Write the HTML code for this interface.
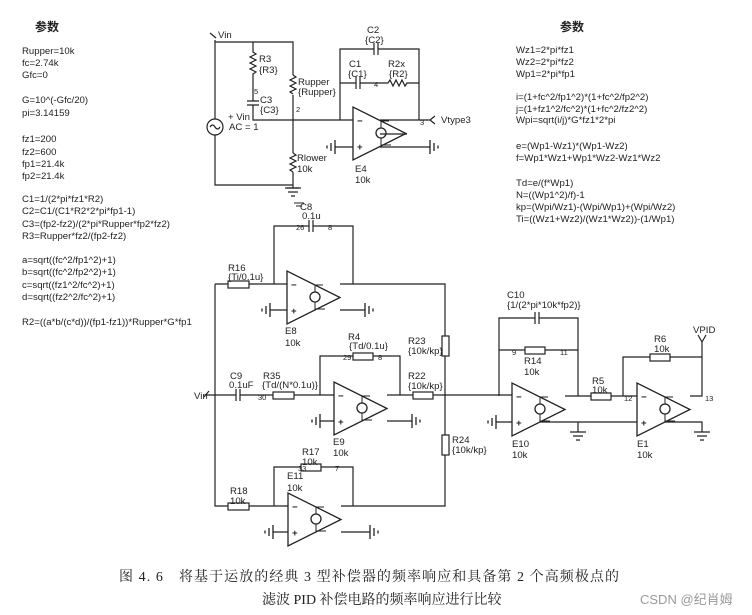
<!DOCTYPE html>
<html><head><meta charset="utf-8"><style>
html,body{margin:0;padding:0;background:#fff;}
svg{display:block;font-family:"Liberation Sans","Noto Sans CJK SC",sans-serif;}
.t{font-size:9.6px;fill:#222;}
.s{font-size:7.5px;fill:#222;}
.cap{font-family:"Liberation Serif","Noto Serif CJK SC",serif;font-size:14px;fill:#222;}
</style></head><body>
<svg width="752" height="615" viewBox="0 0 752 615" xmlns="http://www.w3.org/2000/svg">
<defs>
<g id="oa" fill="none" stroke="#222" stroke-width="1.3">
<path d="M0 0 L0 53 L53 26.5 Z"/>
<circle cx="28" cy="26" r="5"/>
<path d="M28 21 V14 H36 M28 31 V38 H38" stroke-width="1"/>
<text x="4" y="17" class="t" stroke="none" fill="#222" font-weight="bold">−</text>
<text x="4" y="43" class="t" stroke="none" fill="#222" font-weight="bold">+</text>
</g>
<g id="gl" stroke="#222" stroke-width="1.3"><path d="M0 -7 V7 M-4 -4 V4 M-8 -1.5 V1.5"/></g>
<g id="gr" stroke="#222" stroke-width="1.3"><path d="M0 -7 V7 M4 -4 V4 M8 -1.5 V1.5"/></g>
<g id="gd" stroke="#222" stroke-width="1.3"><path d="M-8 0 H8 M-5 4 H5 M-2 8 H2"/></g>
</defs>

<!-- left params -->
<text x="35" y="31" font-size="12" font-weight="bold" fill="#222">参数</text>
<g class="t">
<text x="22" y="54">Rupper=10k</text><text x="22" y="66">fc=2.74k</text><text x="22" y="78">Gfc=0</text>
<text x="22" y="103">G=10^(-Gfc/20)</text><text x="22" y="116">pi=3.14159</text>
<text x="22" y="142">fz1=200</text><text x="22" y="155">fz2=600</text><text x="22" y="167">fp1=21.4k</text><text x="22" y="179">fp2=21.4k</text>
<text x="22" y="202">C1=1/(2*pi*fz1*R2)</text><text x="22" y="214">C2=C1/(C1*R2*2*pi*fp1-1)</text><text x="22" y="227">C3=(fp2-fz2)/(2*pi*Rupper*fp2*fz2)</text><text x="22" y="239">R3=Rupper*fz2/(fp2-fz2)</text>
<text x="22" y="263">a=sqrt((fc^2/fp1^2)+1)</text><text x="22" y="275">b=sqrt((fc^2/fp2^2)+1)</text><text x="22" y="288">c=sqrt((fz1^2/fc^2)+1)</text><text x="22" y="300">d=sqrt((fz2^2/fc^2)+1)</text>
<text x="22" y="325">R2=((a*b/(c*d))/(fp1-fz1))*Rupper*G*fp1</text>
</g>
<!-- right params -->
<text x="560" y="31" font-size="12" font-weight="bold" fill="#222">参数</text>
<g class="t">
<text x="516" y="53">Wz1=2*pi*fz1</text><text x="516" y="65">Wz2=2*pi*fz2</text><text x="516" y="77">Wp1=2*pi*fp1</text>
<text x="516" y="100">i=(1+fc^2/fp1^2)*(1+fc^2/fp2^2)</text><text x="516" y="112">j=(1+fz1^2/fc^2)*(1+fc^2/fz2^2)</text><text x="516" y="123">Wpi=sqrt(i/j)*G*fz1*2*pi</text>
<text x="516" y="149">e=(Wp1-Wz1)*(Wp1-Wz2)</text><text x="516" y="161">f=Wp1*Wz1+Wp1*Wz2-Wz1*Wz2</text>
<text x="516" y="186">Td=e/(f*Wp1)</text><text x="516" y="198">N=((Wp1^2)/f)-1</text><text x="516" y="210">kp=(Wpi/Wz1)-(Wpi/Wp1)+(Wpi/Wz2)</text><text x="516" y="222">Ti=((Wz1+Wz2)/(Wz1*Wz2))-(1/Wp1)</text>
</g>

<g fill="none" stroke="#222" stroke-width="1.2">
<!-- top circuit -->
<path d="M210 33 L216 38 M215 40 V185 H293 M215 42 H293 V75 M293 95 V153 M293 172 V188"/>
<path d="M253 42 V52 l3 2 -6 3 6 3 -6 3 6 3 -6 3 6 3 -3 2 V101 M247 101 H259 M247 105 H259 M253 105 V120 H353"/>
<path d="M293 75 l3 2 -6 3 6 3 -6 3 6 3 -6 3 3 2"/>
<path d="M293 153 l3 2 -6 3 6 3 -6 3 6 3 -6 3 3 2"/>
<path d="M287 188 H299"/>
<circle cx="215" cy="127" r="8" fill="#fff"/>
<path d="M210 127 q2.5 -4 5 0 t5 0"/>
<path d="M340 120 V49 H374 M378 49 H419 V120 M374 43 V55 M378 43 V55 M340 83 H356 M356 77 V89 M360 77 V89 M360 83 H388 l2 -3 3 6 3 -6 3 6 3 -6 3 6 2 -3 H419"/>
<path d="M380 120 H430 l5 -4 M430 120 l5 4 M407 134 H380 M335 147 H353 M380 147 H430"/>
<!-- middle block -->
<path d="M274 284 V226 H309 M313 226 H353 V284 M309 220 V232 M313 220 V232"/>
<path d="M215 284 H228 M249 284 H287 M340 284 H445 V336 M445 356 V435 M445 455 V506 H341"/>
<rect x="228" y="281" width="21" height="7"/>
<rect x="442" y="336" width="7" height="20"/>
<rect x="442" y="435" width="7" height="20"/>
<path d="M215 284 V506 H228 M249 506 H288"/>
<rect x="228" y="503" width="21" height="7"/>
<path d="M274 506 V467 H301 M321 467 H353 V506"/>
<rect x="301" y="464" width="20" height="7"/>
<path d="M204 397 L209 391 M205 395 H236 M240 389 V401 M236 389 V401 M240 395 H273 M294 395 H334"/>
<rect x="273" y="392" width="21" height="7"/>
<path d="M320 395 V356 H353 M373 356 H400 V395 M387 395 H413 M433 395 H512"/>
<rect x="353" y="353" width="20" height="7"/>
<rect x="413" y="392" width="20" height="7"/>
<path d="M270 310 H287 M340 310 H365 M320 421 H334 M387 421 H412 M273 532 H288 M341 532 H370"/>
<!-- right block -->
<path d="M499 396 V318 H535 M539 318 H578 V396 M535 312 V324 M539 312 V324 M499 350 H525 M545 350 H578"/>
<rect x="525" y="347" width="20" height="7"/>
<path d="M565 396 H591 M611 396 H637 M623 396 V357 H650 M670 357 H702 V396 H690 M702 357 V342 l-4 -7 M702 342 l4 -7"/>
<rect x="591" y="393" width="20" height="7"/>
<rect x="650" y="354" width="20" height="7"/>
<path d="M496 422 H512 M540 422 H637 M578 422 V432 M665 422 H702 V432"/>
</g>
<use href="#oa" x="353" y="107"/>
<use href="#oa" x="287" y="271"/>
<use href="#oa" x="334" y="382"/>
<use href="#oa" x="288" y="493"/>
<use href="#oa" x="512" y="383"/>
<use href="#oa" x="637" y="383"/>
<use href="#gl" x="335" y="147"/><use href="#gr" x="430" y="147"/>
<use href="#gl" x="270" y="310"/><use href="#gr" x="365" y="310"/>
<use href="#gl" x="320" y="421"/><use href="#gr" x="412" y="421"/>
<use href="#gl" x="273" y="532"/><use href="#gr" x="370" y="532"/>
<use href="#gl" x="496" y="422"/>
<use href="#gd" x="578" y="432"/><use href="#gd" x="702" y="432"/>
<use href="#gd" x="293" y="188"/>
<path d="M294 203 H304 M296 206 H302" stroke="#222"/>

<g class="t">
<text x="218" y="38">Vin</text>
<text x="259" y="62">R3</text><text x="259" y="73">{R3}</text>
<text x="260" y="103">C3</text><text x="260" y="113">{C3}</text>
<text x="298" y="85">Rupper</text><text x="298" y="95">{Rupper}</text>
<text x="297" y="161">Rlower</text><text x="297" y="172">10k</text>
<text x="228" y="120">+ Vin</text><text x="229" y="130">AC = 1</text>
<text x="367" y="33">C2</text><text x="365" y="43">{C2}</text>
<text x="349" y="67">C1</text><text x="348" y="77">{C1}</text>
<text x="388" y="67">R2x</text><text x="389" y="77">{R2}</text>
<text x="441" y="123">Vtype3</text>
<text x="355" y="172">E4</text><text x="355" y="183">10k</text>
<text x="300" y="210">C8</text><text x="302" y="219">0.1u</text>
<text x="228" y="271">R16</text><text x="228" y="280">{Ti/0.1u}</text>
<text x="285" y="334">E8</text><text x="285" y="346">10k</text>
<text x="348" y="340">R4</text><text x="349" y="349">{Td/0.1u}</text>
<text x="408" y="344">R23</text><text x="408" y="354">{10k/kp}</text>
<text x="230" y="379">C9</text><text x="229" y="388">0.1uF</text>
<text x="263" y="379">R35</text><text x="262" y="388">{Td/(N*0.1u)}</text>
<text x="408" y="379">R22</text><text x="408" y="389">{10k/kp}</text>
<text x="194" y="399">Vin</text>
<text x="333" y="445">E9</text><text x="333" y="456">10k</text>
<text x="452" y="443">R24</text><text x="452" y="453">{10k/kp}</text>
<text x="302" y="455">R17</text><text x="302" y="465">10k</text>
<text x="287" y="479">E11</text><text x="287" y="491">10k</text>
<text x="230" y="494">R18</text><text x="230" y="504">10k</text>
<text x="507" y="298">C10</text><text x="507" y="308">{1/(2*pi*10k*fp2)}</text>
<text x="524" y="364">R14</text><text x="524" y="375">10k</text>
<text x="592" y="384">R5</text><text x="592" y="393">10k</text>
<text x="654" y="342">R6</text><text x="654" y="352">10k</text>
<text x="693" y="333">VPID</text>
<text x="512" y="447">E10</text><text x="512" y="458">10k</text>
<text x="637" y="447">E1</text><text x="637" y="458">10k</text>
</g>
<g class="s">
<text x="296" y="230">26</text><text x="328" y="230">8</text>
<text x="343" y="360">29</text><text x="378" y="360">8</text>
<text x="258" y="400">30</text>
<text x="298" y="471">33</text><text x="335" y="471">7</text>
<text x="512" y="355">9</text><text x="560" y="355">11</text>
<text x="624" y="401">12</text><text x="705" y="401">13</text>
<text x="296" y="112">2</text><text x="420" y="125">3</text><text x="374" y="87">4</text><text x="254" y="94">5</text>
</g>

<text x="119" y="581" class="cap" textLength="500" lengthAdjust="spacing">图 4. 6　将基于运放的经典 3 型补偿器的频率响应和具备第 2 个高频极点的</text>
<text x="262" y="604" class="cap">滤波 PID 补偿电路的频率响应进行比较</text>
<text x="640" y="604" font-size="13" fill="#999">CSDN @纪肖姆</text>
</svg>
</body></html>
